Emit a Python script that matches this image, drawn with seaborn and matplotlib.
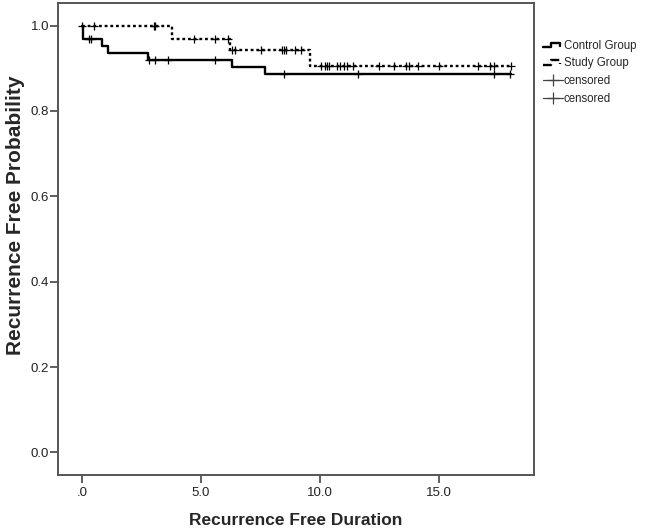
import numpy as np
import pandas as pd
import matplotlib
matplotlib.use('Agg')
import matplotlib.pyplot as plt
from matplotlib.lines import Line2D
from matplotlib.legend_handler import HandlerBase
import seaborn as sns

# Kaplan-Meier step values
control_time = [0.0, 0.02, 0.82, 1.09, 2.78, 6.3, 7.7, 18.04]
control_surv = [1.0, 0.968, 0.952, 0.937, 0.920, 0.902, 0.886, 0.886]
control_censor = [0.3, 0.38, 2.8, 3.05, 3.6, 5.6, 8.49, 11.6, 17.34, 18.01]

study_time = [0.0, 3.78, 6.2, 9.6, 18.04]
study_surv = [1.0, 0.969, 0.943, 0.906, 0.906]
study_censor = [0.0, 0.49, 3.03, 3.08, 4.69, 5.58, 6.12,
                6.3, 6.44, 7.54, 8.4, 8.47, 8.56, 8.94, 9.22,
                10.06, 10.2, 10.3, 10.38, 10.71, 10.86, 11.0, 11.13, 11.39,
                12.5, 13.1, 13.63, 13.74, 14.12, 15.0, 16.64, 17.13, 17.34, 18.04]

x_ticks = [0, 5, 10, 15]
x_ticklabels = ['.0', '5.0', '10.0', '15.0']
y_ticks = [0.0, 0.2, 0.4, 0.6, 0.8, 1.0]
legend_labels = ['Control Group', 'Study Group', 'censored', 'censored']


def step_level(times, surv, t):
    idx = np.searchsorted(times, t, side='right') - 1
    return np.asarray(surv)[idx]


class StepHandler(HandlerBase):
    # little step-shaped legend key, like the SPSS one
    def create_artists(self, legend, orig, xd, yd, w, h, fontsize, trans):
        xs = [0, 0.42 * w, 0.42 * w, 0.88 * w, 0.88 * w]
        ys = [0.2 * h, 0.2 * h, 0.75 * h, 0.75 * h, 0.3 * h]
        ln = Line2D([x - xd for x in xs], [y - yd for y in ys],
                    color=orig.get_color(), lw=orig.get_linewidth(),
                    linestyle=orig.get_linestyle(), transform=trans)
        return [ln]


sns.set_style('white')
plt.rcParams['font.family'] = ['Liberation Sans', 'DejaVu Sans']

fig = plt.figure(figsize=(6.46, 5.30), dpi=100)
ax = fig.add_axes([0.0902, 0.1038, 0.7364, 0.8905])

curve_c = pd.DataFrame({'t': control_time, 's': control_surv})
curve_s = pd.DataFrame({'t': study_time, 's': study_surv})
sns.lineplot(data=curve_c, x='t', y='s', ax=ax, color='black', lw=1.7,
             drawstyle='steps-post', estimator=None, sort=False)
sns.lineplot(data=curve_s, x='t', y='s', ax=ax, color='black', lw=1.7,
             drawstyle='steps-post', estimator=None, sort=False,
             linestyle=(0, (1.2, 1.2)))

cen_c = pd.DataFrame({'t': control_censor,
                      's': step_level(control_time, control_surv, control_censor)})
cen_s = pd.DataFrame({'t': study_censor,
                      's': step_level(study_time, study_surv, study_censor)})
for d in (cen_c, cen_s):
    sns.scatterplot(data=d, x='t', y='s', ax=ax, marker='+', s=28,
                    color='black', linewidth=0.9, zorder=3)

ax.set_xlim(-1, 19)
ax.set_ylim(-0.053, 1.053)
ax.set_xticks(x_ticks)
ax.set_xticklabels(x_ticklabels)
ax.set_yticks(y_ticks)
ax.set_yticklabels([f'{v:.1f}' for v in y_ticks])
ax.tick_params(axis='both', direction='out', length=5.5, width=1.2,
               bottom=True, left=True, color='#444444', labelsize=9.5,
               labelcolor='#222222', pad=1)
ax.tick_params(axis='x', pad=3)
for sp in ax.spines.values():
    sp.set_color('#555555')
    sp.set_linewidth(1.4)

ax.set_xlabel('Recurrence Free Duration', fontsize=12.5, fontweight='bold')
ax.xaxis.set_label_coords(0.5, -0.081)
ax.set_ylabel('Recurrence Free Probability', fontsize=15, fontweight='bold')
ax.yaxis.set_label_coords(-0.07, 0.55)

handles = [
    Line2D([], [], color='black', lw=1.7),
    Line2D([], [], color='black', lw=1.7, linestyle=(0, (1.2, 1.2))),
    Line2D([], [], color='#444444', lw=0.9, marker='+', markersize=8, markeredgewidth=0.9),
    Line2D([], [], color='#444444', lw=0.9, marker='+', markersize=8, markeredgewidth=0.9),
]
ax.legend(handles, legend_labels, loc='upper left', bbox_to_anchor=(1.0, 0.942),
          frameon=False, fontsize=8.3, handlelength=1.7, handletextpad=0.1,
          labelspacing=0.5, borderaxespad=0.4,
          handler_map={handles[0]: StepHandler(), handles[1]: StepHandler()})

fig.savefig('out.png', dpi=100)
